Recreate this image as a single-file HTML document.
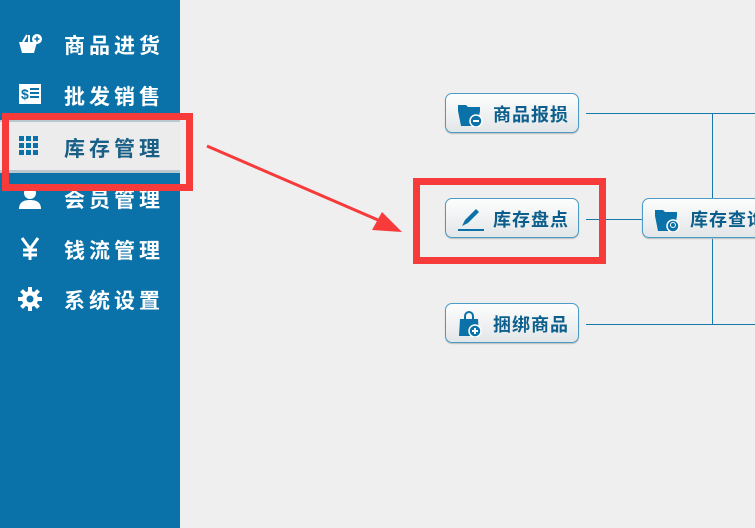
<!DOCTYPE html>
<html><head><meta charset="utf-8"><style>
body{margin:0;width:755px;height:528px;overflow:hidden;background:#efefef;position:relative;font-family:"Liberation Sans","Noto Sans CJK SC",sans-serif}
#side{position:absolute;left:0;top:0;width:180px;height:528px;background:#0a72a8}
.it{position:absolute;left:0;width:180px;height:50px;color:#fff;font-size:21px;font-weight:bold;letter-spacing:4px}
.it span.t{position:absolute;left:64px;top:10px}
.it svg{position:absolute;left:17px;top:11px}
.sel{background:#ececec;color:#1a5f86;border-top:2px solid #b9c7cf;border-bottom:3px solid #b9c7cf}
.btn{position:absolute;width:134px;height:40px;border:1px solid #4a9cc4;border-radius:7px;background:linear-gradient(#fdfdfd,#e3e6e8);box-sizing:border-box;color:#0c5f8c;font-size:18px;font-weight:bold;letter-spacing:1px;box-shadow:0 1px 1px #bbb}
.btn .t{position:absolute;left:47px;top:7px}
.btn .ic{position:absolute;left:10px;top:7px;width:28px;height:26px}
.ln{position:absolute;background:#1678ad}
.rb{position:absolute;border:7px solid #f73a3a;box-sizing:border-box}
</style></head><body>
<div id="side">
<div class="it" style="top:20px"><svg width="26" height="26" viewBox="0 0 26 26"><path d="M2 11h18l-3 11H5z" fill="#fff"/><path d="M6 11l4-7M12 11V4" stroke="#fff" stroke-width="2"/><circle cx="20" cy="8" r="5" fill="#fff"/><path d="M17.5 8h5M20 5.5v5" stroke="#0a72a8" stroke-width="1.6"/></svg><span class="t">商品进货</span></div>
<div class="it" style="top:71px"><svg width="26" height="26" viewBox="0 0 26 26"><rect x="2" y="2" width="22" height="20" fill="#fff"/><text x="4" y="17" font-size="14" font-weight="bold" fill="#0a72a8" font-family="Liberation Sans">$</text><path d="M13 7h9M13 11h9M13 15h9" stroke="#0a72a8" stroke-width="2"/></svg><span class="t">批发销售</span></div>
<div class="it sel" style="top:120px;height:48px"><svg width="24" height="24" viewBox="0 0 24 24" style="top:12px"><g fill="#0a72a8"><rect x="2" y="2" width="5" height="5"/><rect x="9" y="2" width="5" height="5"/><rect x="16" y="2" width="5" height="5"/><rect x="2" y="9" width="5" height="5"/><rect x="9" y="9" width="5" height="5"/><rect x="16" y="9" width="5" height="5"/><rect x="2" y="16" width="5" height="5"/><rect x="9" y="16" width="5" height="5"/><rect x="16" y="16" width="5" height="5"/></g></svg><span class="t" style="top:11px">库存管理</span></div>
<div class="it" style="top:174px"><svg width="26" height="26" viewBox="0 0 26 26"><circle cx="13" cy="8" r="6" fill="#fff"/><path d="M2 24c0-7 5-9 11-9s11 2 11 9z" fill="#fff"/></svg><span class="t">会员管理</span></div>
<div class="it" style="top:225px"><svg width="26" height="26" viewBox="0 0 26 26"><path d="M5 2l8 11 8-11M13 13v11M6 14h14M6 19h14" stroke="#fff" stroke-width="3" fill="none"/></svg><span class="t">钱流管理</span></div>
<div class="it" style="top:275px"><svg width="26" height="26" viewBox="0 0 26 26"><g fill="#fff"><circle cx="13" cy="13" r="8"/><rect x="11" y="1" width="4" height="24"/><rect x="1" y="11" width="24" height="4"/><rect x="11" y="1" width="4" height="24" transform="rotate(45 13 13)"/><rect x="11" y="1" width="4" height="24" transform="rotate(-45 13 13)"/></g><circle cx="13" cy="13" r="3.5" fill="#0a72a8"/></svg><span class="t">系统设置</span></div>
</div>
<div class="rb" style="left:2px;top:113px;width:191px;height:78px"></div>

<div class="ln" style="left:586px;top:113px;width:169px;height:1px"></div>
<div class="ln" style="left:586px;top:324px;width:169px;height:1px"></div>
<div class="ln" style="left:712px;top:113px;width:1px;height:211px"></div>
<div class="ln" style="left:586px;top:219px;width:56px;height:1px"></div>

<div class="btn" style="left:445px;top:93px"><svg class="ic" viewBox="0 0 28 26"><path d="M2 4h8l2 2h12v4H2z M2 10h22l-3 15H5z" fill="#0a72a8"/><circle cx="20" cy="20" r="6" fill="#0a72a8" stroke="#fff" stroke-width="1.5"/><rect x="17" y="19" width="6" height="2" fill="#fff"/></svg><span class="t">商品报损</span></div>
<div class="btn" style="left:445px;top:198px"><svg class="ic" viewBox="0 0 28 26"><path d="M6 20l3-6 11-11 3 3-11 11z" fill="#0a72a8"/><rect x="2" y="23" width="28" height="2" fill="#0a72a8"/></svg><span class="t">库存盘点</span></div>
<div class="btn" style="left:445px;top:303px"><svg class="ic" viewBox="0 0 28 26"><path d="M9 8V5a4 4 0 0 1 8 0v3" stroke="#0a72a8" stroke-width="2" fill="none"/><path d="M4 8h18l1 17H3z" fill="#0a72a8"/><circle cx="19" cy="20" r="6" fill="#0a72a8" stroke="#fff" stroke-width="1.5"/><path d="M16 20h6M19 17v6" stroke="#fff" stroke-width="2"/></svg><span class="t">捆绑商品</span></div>
<div class="btn" style="left:642px;top:198px;width:140px"><svg class="ic" viewBox="0 0 28 26"><path d="M2 4h8l2 2h12v4H2z M2 10h22l-3 15H5z" fill="#0a72a8"/><circle cx="20" cy="20" r="6" fill="#0a72a8" stroke="#fff" stroke-width="1.5"/><circle cx="20" cy="19" r="2.5" stroke="#fff" fill="none"/></svg><span class="t">库存查询</span></div>

<div class="rb" style="left:413px;top:178px;width:193px;height:86px"></div>
<svg style="position:absolute;left:0;top:0" width="755" height="528"><line x1="207" y1="146" x2="378" y2="220" stroke="#f73a3a" stroke-width="3"/><polygon points="402,232 372,230 382,212" fill="#f73a3a"/></svg>
</body></html>
